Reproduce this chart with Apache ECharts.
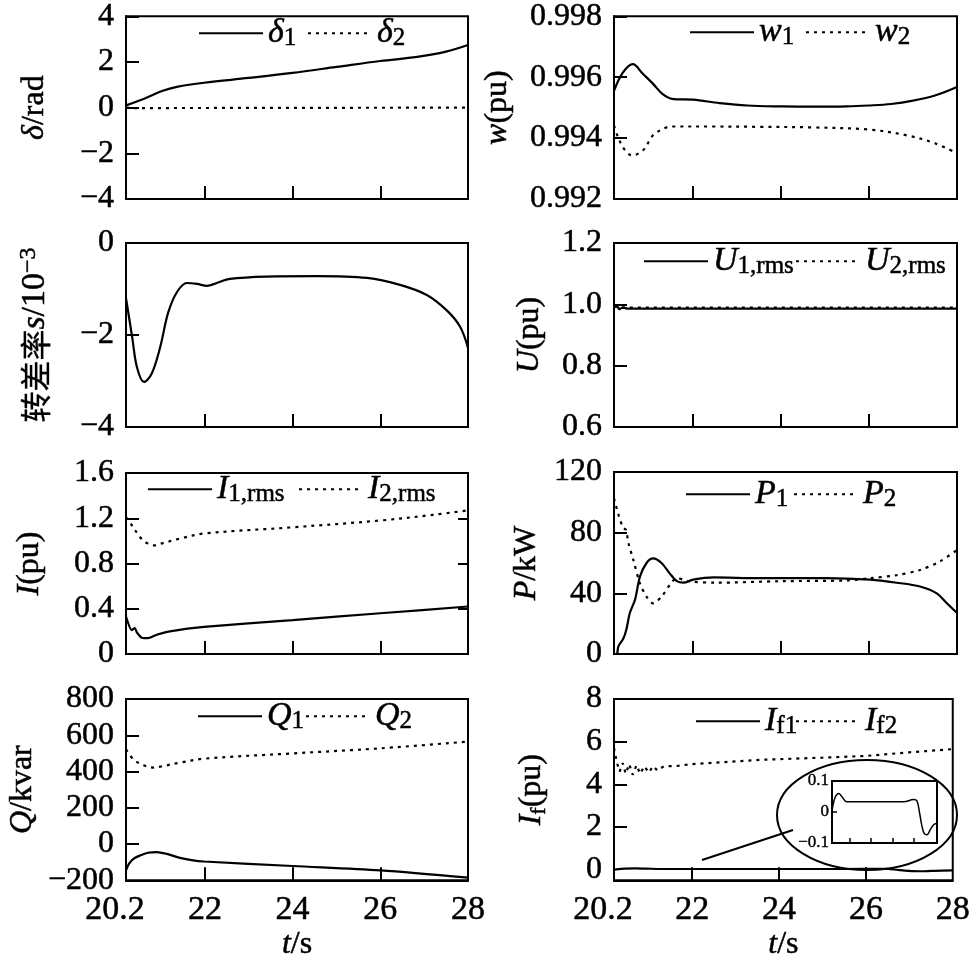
<!DOCTYPE html>
<html><head><meta charset="utf-8">
<script src="https://cdn.jsdelivr.net/npm/echarts@6/dist/echarts.min.js"></script>
<style>html,body{margin:0;padding:0;background:#fff}#c{width:973px;height:962px}</style>
</head><body><div id="c"></div>
<script>
// ---------------- data ----------------
const xLabelValues = [20.2, 22, 24, 26, 28];
const xTickValues = [22, 24, 26];

// panel 1: rotor angle
const tDelta1 = [20.2, 20.6, 21.04, 21.36, 21.98, 23.0, 24.0, 25.0, 26.0, 26.84, 27.5, 28];
const delta1 = [0.1, 0.38, 0.74, 0.91, 1.09, 1.3, 1.52, 1.78, 2.04, 2.22, 2.45, 2.74];
const tDelta2 = [20.2, 20.3, 28];
const delta2 = [0.0, -0.02, 0.0];

// panel 2: speed
const tW1 = [20.2, 20.4, 20.63, 20.85, 21.09, 21.3, 21.52, 22.0, 22.6, 23.23, 24.0, 24.73, 25.5, 25.99, 26.5, 27.0, 27.5, 28];
const w1 = [0.99555, 0.99615, 0.99643, 0.99612, 0.99578, 0.99545, 0.99529, 0.99526, 0.99515, 0.99507, 0.99504, 0.99503, 0.99504, 0.99507, 0.99512, 0.99523, 0.9954, 0.99568];
const tW2 = [20.2, 20.3, 20.45, 20.61, 20.86, 21.0, 21.13, 21.52, 22.45, 23.5, 24.73, 25.99, 26.86, 27.5, 28];
const w2 = [0.99441, 0.994, 0.9936, 0.99343, 0.9936, 0.9939, 0.99415, 0.99438, 0.99438, 0.99437, 0.99435, 0.99428, 0.99409, 0.99383, 0.9935];

// panel 3: slip (x10^-3)
const tSlip = [20.2, 20.34, 20.45, 20.61, 20.79, 20.98, 21.16, 21.36, 21.59, 21.82, 22.05, 22.27, 22.57, 23.4, 24.55, 25.7, 26.45, 27.06, 27.51, 27.82, 28];
const slip = [-1.2, -2.04, -2.7, -3.02, -2.83, -2.26, -1.52, -1.07, -0.87, -0.89, -0.93, -0.87, -0.78, -0.73, -0.72, -0.76, -0.91, -1.13, -1.46, -1.82, -2.28];

// panel 4: voltage
const tU1 = [20.2, 20.25, 20.32, 20.4, 20.5, 28];
const u1 = [0.99, 0.998, 0.984, 0.99, 0.986, 0.986];
const tU2 = [20.2, 20.3, 28];
const u2 = [0.993, 0.989, 0.989];

// panel 5: current
const tI1 = [20.2, 20.33, 20.4, 20.45, 20.56, 20.7, 20.9, 21.2, 21.98, 24, 26, 28];
const i1 = [0.33, 0.21, 0.23, 0.19, 0.144, 0.14, 0.17, 0.2, 0.24, 0.3, 0.36, 0.42];
const tI2 = [20.2, 20.33, 20.45, 20.55, 20.68, 20.86, 21.04, 21.43, 21.98, 24, 26, 27.2, 28];
const i2 = [1.21, 1.14, 1.07, 1.02, 0.98, 0.96, 0.98, 1.02, 1.065, 1.12, 1.18, 1.23, 1.27];

// panel 6: active power
const tP1 = [20.2, 20.25, 20.3, 20.41, 20.48, 20.56, 20.68, 20.79, 20.94, 21.09, 21.28, 21.47, 21.63, 21.78, 22.0, 22.46, 23.5, 25.0, 26.03, 26.63, 27.16, 27.54, 27.77, 28];
const p1 = [0, -4, 5, 10, 16, 27, 36, 51, 60, 63, 60, 53, 48, 47, 49, 50.5, 50, 50, 49, 47, 44.5, 40, 33.5, 27];
const tP2 = [20.2, 20.3, 20.41, 20.47, 20.53, 20.64, 20.79, 20.94, 21.09, 21.28, 21.47, 21.63, 21.9, 22.5, 24.0, 25.5, 26.03, 26.63, 27.16, 27.61, 28];
const p2 = [102.6, 92, 83, 82, 73, 62, 46.6, 37.8, 33.4, 37.8, 45.5, 50, 48, 47, 48, 48.5, 50, 52, 55.4, 61, 68.6];

// panel 7: reactive power
const tQ1 = [20.2, 20.27, 20.37, 20.52, 20.7, 20.9, 21.13, 21.43, 21.73, 21.98, 24, 26, 28];
const q1 = [-145, -108, -81, -63, -48, -44, -54, -76, -90, -96, -121, -145, -185];
const tQ2 = [20.2, 20.37, 20.6, 20.82, 21.0, 21.43, 21.98, 24, 26, 28];
const q2 = [522, 467, 435, 422, 428, 449, 471, 500, 528, 565];

// panel 8: field current
const tIf1 = [20.2, 20.25, 20.45, 20.7, 20.94, 21.31, 23.05, 25.52, 26.27, 26.51, 26.71, 26.89, 27.06, 27.26, 27.5, 27.75, 28];
const if1 = [0.0, 0.017, 0.049, 0.06, 0.049, 0.033, 0.033, 0.033, 0.04, 0.036, -0.004, -0.047, -0.07, -0.073, -0.057, -0.041, -0.036];
const tIf2 = [20.2, 20.27, 20.33, 20.4, 20.47, 20.55, 20.63, 20.72, 20.8, 20.9, 21.0, 21.1, 21.2, 21.35, 21.6, 22.0, 23.57, 25, 26, 27, 28];
const if2 = [5.7, 5.0, 4.6, 5.0, 4.5, 4.95, 4.45, 4.9, 4.5, 4.85, 4.55, 4.85, 4.65, 4.85, 4.85, 4.95, 5.15, 5.25, 5.33, 5.5, 5.65];

// inset axis
const insetTickValues = [21.5, 23.1, 24.7, 26.3];

// ---------------- styling ----------------
const FONT = "'Liberation Serif','Times New Roman','Noto Sans CJK SC',serif";
const TB = {textBorderColor: '#000', textBorderWidth: 0.5};
const zip = (t, v) => t.map((x, k) => [x, v[k]]);
const fmtNum = (v, d) => {
  if (Math.abs(v) < 1e-9) return '0';
  const s = d == null ? String(Math.round(v * 1000) / 1000) : v.toFixed(d);
  return s.replace('-', '\u2212');
};
const T = o => Object.assign({fontFamily: FONT, color: '#000'}, TB, o);

const grids = [
  {left: 126, top: 15, width: 342, height: 184},
  {left: 614, top: 15, width: 343, height: 184},
  {left: 126, top: 243, width: 342, height: 184},
  {left: 614, top: 243, width: 343, height: 184},
  {left: 126, top: 473, width: 342, height: 181},
  {left: 614, top: 472, width: 343, height: 182},
  {left: 126, top: 699, width: 342, height: 183},
  {left: 614, top: 699, width: 343, height: 183},
  {left: 832, top: 781, width: 105, height: 62}
].map(g => Object.assign({show: true, borderColor: '#000', borderWidth: 2, backgroundColor: 'transparent'}, g));

const nameRich = {
  i: T({fontStyle: 'italic', fontSize: 32, lineHeight: 36}),
  n: T({fontSize: 32, lineHeight: 36}),
  si: T({fontStyle: 'italic', fontSize: 34, lineHeight: 36}),
  sn: T({fontSize: 34, lineHeight: 36}),
  c: T({fontFamily: "'Noto Sans CJK SC'", fontSize: 31, lineHeight: 36, textBorderWidth: 0.3}),
  sub: T({fontSize: 22, lineHeight: 20, verticalAlign: 'bottom'}),
  sup: T({fontSize: 24, lineHeight: 20, verticalAlign: 'top'})
};

const xAxes = [];
for (let k = 0; k < 8; k++) {
  const bottom = k >= 6;
  xAxes.push({
    type: 'value', gridIndex: k, min: 20.2, max: 28,
    splitLine: {show: false},
    axisLine: {show: true, onZero: false, lineStyle: {color: '#000', width: 2}},
    axisTick: {show: true, inside: true, length: 13, customValues: xTickValues, lineStyle: {color: '#000', width: 2}},
    axisLabel: T({
      show: bottom, customValues: xLabelValues, margin: 13, fontSize: 34,
      formatter: v => Math.abs(v - 20.2) < 1e-6 ? '{a|20.2}' : String(v),
      rich: {a: T({fontSize: 34, padding: [0, 22, 0, 0]})}
    }),
    name: bottom ? '{i|t}{n|/s}' : '',
    nameLocation: 'middle', nameGap: 44,
    nameTextStyle: {rich: nameRich}
  });
}
xAxes.push({
  type: 'value', gridIndex: 8, min: 20.2, max: 28,
  splitLine: {show: false},
  axisLine: {show: true, onZero: false, lineStyle: {color: '#000', width: 1.5}},
  axisTick: {show: true, inside: true, length: 5, customValues: insetTickValues, lineStyle: {color: '#000', width: 1.5}},
  axisLabel: {show: false}
});

const lab = (fmt, extra) => T(Object.assign({margin: 12, fontSize: 32, formatter: fmt}, extra || {}));
function yAx(k, o) {
  return Object.assign({
    type: 'value', gridIndex: k,
    splitLine: {show: false},
    axisLine: {show: true, onZero: false, lineStyle: {color: '#000', width: 2}},
    axisTick: {show: true, inside: true, length: 13, lineStyle: {color: '#000', width: 2}},
    axisLabel: lab(v => fmtNum(v)),
    nameLocation: 'middle', nameRotate: 90,
    nameTextStyle: {rich: nameRich}
  }, o);
}

const yAxes = [
  yAx(0, {min: -4, max: 4, interval: 2, name: '{i|δ}{n|/rad}', nameGap: 73}),
  yAx(1, {min: 0.992, max: 0.998, interval: 0.002, name: '{i|w}{n|(pu)}', nameGap: 98, axisLabel: lab(v => v.toFixed(3))}),
  yAx(2, {min: -4, max: 0, interval: 2, name: '{c|转差率}{si|s}{sn|/10}{sup|\u22123}', nameGap: 73}),
  yAx(3, {min: 0.6, max: 1.2, interval: 0.2, name: '{i|U}{n|(pu)}', nameGap: 66, axisLabel: lab(v => v.toFixed(1))}),
  yAx(4, {min: 0, max: 1.6, interval: 0.4, name: '{i|I}{n|(pu)}', nameGap: 78, axisLabel: lab(v => fmtNum(v, 1))}),
  yAx(5, {min: 0, max: 120, interval: 40, name: '{i|P}{n|/kW}', nameGap: 69}),
  yAx(6, {min: -200, max: 800, interval: 200, name: '{i|Q}{n|/kvar}', nameGap: 85}),
  yAx(7, {min: -0.5, max: 8, name: '{i|I}{sub|f}{n|(pu)}', nameGap: 64,
    axisTick: {show: true, inside: true, length: 13, customValues: [2, 4, 6], lineStyle: {color: '#000', width: 2}},
    axisLabel: lab(v => fmtNum(v), {customValues: [0, 2, 4, 6, 8]})}),
  // inset
  {
    type: 'value', gridIndex: 8, min: -0.1, max: 0.1, interval: 0.1,
    splitLine: {show: false},
    axisLine: {show: true, onZero: false, lineStyle: {color: '#000', width: 1.5}},
    axisTick: {show: true, inside: true, length: 5, customValues: [0], lineStyle: {color: '#000', width: 1.5}},
    axisLabel: T({margin: 3, fontSize: 17, textBorderWidth: 0.4, formatter: v => fmtNum(v, 1)})
  },
  // right-side ticks of the current panel
  {
    type: 'value', gridIndex: 4, position: 'right', min: 0, max: 1.6, interval: 0.4,
    splitLine: {show: false}, axisLine: {show: false}, axisLabel: {show: false},
    axisTick: {show: true, inside: true, length: 10, lineStyle: {color: '#000', width: 2}}
  }
];

const SOLID = {color: '#000', width: 2.2, type: 'solid'};
const DOT = {color: '#000', width: 2.2, type: [3, 5]};
function ser(name, k, t, v, dotted, smooth) {
  return {
    name, type: 'line', xAxisIndex: k, yAxisIndex: k, data: zip(t, v),
    symbol: 'none', smooth: smooth == null ? 0.35 : smooth, silent: true,
    lineStyle: dotted ? DOT : SOLID, itemStyle: {color: '#000'}, z: 3
  };
}

const series = [
  ser('δ1', 0, tDelta1, delta1, false),
  ser('δ2', 0, tDelta2, delta2, true, false),
  ser('w1', 1, tW1, w1, false),
  ser('w2', 1, tW2, w2, true),
  ser('s', 2, tSlip, slip, false),
  ser('U1,rms', 3, tU1, u1, false, false),
  ser('U2,rms', 3, tU2, u2, true, false),
  ser('I1,rms', 4, tI1, i1, false, 0.2),
  ser('I2,rms', 4, tI2, i2, true),
  ser('P1', 5, tP1, p1, false, 0.3),
  ser('P2', 5, tP2, p2, true, 0.3),
  ser('Q1', 6, tQ1, q1, false, 0.3),
  ser('Q2', 6, tQ2, q2, true),
  ser('If1', 7, tIf1, if1, false, 0.3),
  ser('If2', 7, tIf2, if2, true, false),
  Object.assign(ser('If1_inset', 8, tIf1, if1, false, 0.4), {yAxisIndex: 8, lineStyle: {color: '#000', width: 1.5}})
];

const legendLabels = {
  'δ1': '{i|δ}{s|1}', 'δ2': '{i|δ}{s|2}',
  'w1': '{i|w}{s|1}', 'w2': '{i|w}{s|2}',
  'U1,rms': '{i|U}{s|1,rms}', 'U2,rms': '{i|U}{s|2,rms}',
  'I1,rms': '{i|I}{s|1,rms}', 'I2,rms': '{i|I}{s|2,rms}',
  'P1': '{i|P}{s|1}', 'P2': '{i|P}{s|2}',
  'Q1': '{i|Q}{s|1}', 'Q2': '{i|Q}{s|2}',
  'If1': '{i|I}{s|f1}', 'If2': '{i|I}{s|f2}'
};
const legRich = {
  i: T({fontStyle: 'italic', fontSize: 34, lineHeight: 36}),
  s: T({fontSize: 25, lineHeight: 22, verticalAlign: 'bottom'})
};
function leg(name, left, lineY) {
  return {
    data: [name], left: left, top: lineY - 18, padding: 0, orient: 'horizontal',
    itemWidth: 64, itemHeight: 14, selectedMode: false,
    itemStyle: {opacity: 0},
    formatter: n => legendLabels[n],
    textStyle: {rich: legRich, fontFamily: FONT, fontSize: 31, color: '#000'}
  };
}
const legends = [
  leg('δ1', 198, 34), leg('δ2', 307, 34),
  leg('w1', 689, 33), leg('w2', 805, 33),
  leg('U1,rms', 643, 262), leg('U2,rms', 795, 262),
  leg('I1,rms', 147, 490), leg('I2,rms', 298, 490),
  leg('P1', 685, 495), leg('P2', 793, 495),
  leg('Q1', 197, 717), leg('Q2', 305, 717),
  leg('If1', 695, 722), leg('If2', 795, 722)
];

const chart = echarts.init(document.getElementById('c'), null, {renderer: 'canvas'});
chart.setOption({
  animation: false,
  backgroundColor: '#fff',
  textStyle: {fontFamily: FONT, color: '#000'},
  grid: grids,
  xAxis: xAxes,
  yAxis: yAxes,
  legend: legends,
  series: series,
  graphic: [
    {type: 'ellipse', shape: {cx: 867, cy: 815, rx: 90, ry: 55}, style: {fill: null, stroke: '#000', lineWidth: 2}, z: 10},
    {type: 'line', shape: {x1: 702, y1: 860, x2: 793, y2: 830}, style: {stroke: '#000', lineWidth: 2}, z: 10}
  ]
});
</script>
</body></html>
